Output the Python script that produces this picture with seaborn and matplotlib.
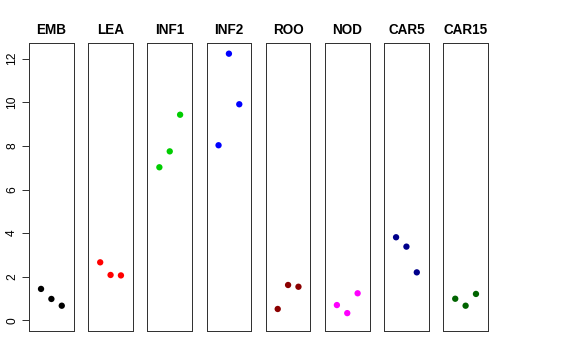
import matplotlib
matplotlib.use("Agg")
import matplotlib.pyplot as plt
import seaborn as sns
import pandas as pd

tissues = ["EMB", "LEA", "INF1", "INF2", "ROO", "NOD", "CAR5", "CAR15"]
colors = ["#000000", "#FF0000", "#00CD00", "#0000FF", "#8B0000", "#FF00FF", "#00008B", "#006400"]
replicate = [1, 2, 3]
values = {
    "EMB":   [1.44, 0.98, 0.67],
    "LEA":   [2.66, 2.08, 2.06],
    "INF1":  [7.02, 7.75, 9.43],
    "INF2":  [8.03, 12.23, 9.91],
    "ROO":   [0.52, 1.62, 1.54],
    "NOD":   [0.70, 0.33, 1.24],
    "CAR5":  [3.81, 3.38, 2.20],
    "CAR15": [0.99, 0.67, 1.21],
}
yticks = [0, 2, 4, 6, 8, 10, 12]

rows = []
for t in tissues:
    for r, v in zip(replicate, values[t]):
        rows.append({"tissue": t, "rep": r, "value": v})
df = pd.DataFrame(rows)

sns.set_style("white")
plt.rcParams["font.family"] = ["Liberation Sans", "DejaVu Sans"]
plt.rcParams["text.color"] = "black"
plt.rcParams["ytick.color"] = "black"

fig, axes = plt.subplots(1, len(tissues), figsize=(8, 5), dpi=72, sharey=True)
fig.subplots_adjust(left=29/576, right=488/576, top=1-43/360, bottom=1-331/360, wspace=0.321)

for ax, t, c in zip(axes, tissues, colors):
    sub = df[df["tissue"] == t]
    sns.scatterplot(data=sub, x="rep", y="value", ax=ax, color=c, s=40, edgecolor="none", legend=False)
    ax.set_xlim(-0.16, 4.16)
    ax.set_ylim(-0.49, 12.72)
    ax.set_xticks([])
    ax.set_xlabel("")
    ax.set_ylabel("")
    ax.set_title(t, fontsize=13.5, fontweight="bold", pad=9, color="black")
    for s in ax.spines.values():
        s.set_visible(True)
        s.set_color("#333333")
        s.set_linewidth(1.0)
    ax.tick_params(axis="y", left=False, labelleft=False)

ax0 = axes[0]
ax0.set_yticks(yticks)
ax0.tick_params(axis="y", left=True, labelleft=True, length=7, width=1, color="#333333",
                labelcolor="black", labelsize=12, pad=4, direction="out")
for lab in ax0.get_yticklabels():
    lab.set_rotation(90)
    lab.set_va("center")

fig.savefig("out.png", dpi=72)
